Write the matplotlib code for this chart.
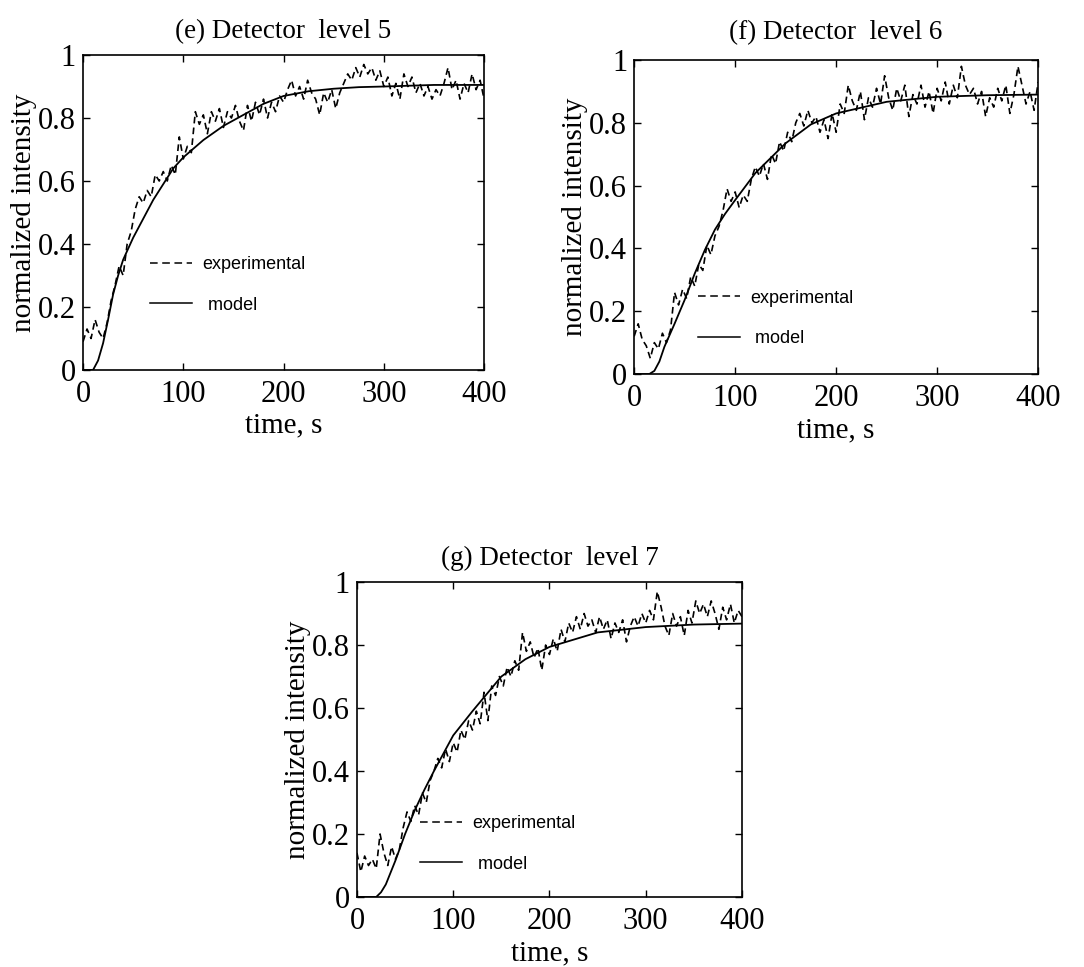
import matplotlib
matplotlib.use("Agg")
import matplotlib.pyplot as plt
from matplotlib.lines import Line2D

# experimental curves, sampled every 4 s
exp_t = list(range(0, 404, 4))

exp_e = [0.09, 0.13, 0.10, 0.16, 0.12, 0.10, 0.15, 0.22, 0.27, 0.33,
         0.30, 0.40, 0.44, 0.51, 0.55, 0.53, 0.57, 0.55, 0.62, 0.60,
         0.63, 0.60, 0.65, 0.62, 0.74, 0.67, 0.71, 0.69, 0.82, 0.78,
         0.81, 0.75, 0.82, 0.79, 0.83, 0.77, 0.82, 0.80, 0.84, 0.79,
         0.76, 0.84, 0.79, 0.85, 0.81, 0.86, 0.80, 0.85, 0.82, 0.87,
         0.85, 0.89, 0.92, 0.87, 0.90, 0.86, 0.92, 0.88, 0.86, 0.81,
         0.88, 0.85, 0.89, 0.83, 0.88, 0.91, 0.94, 0.92, 0.96, 0.93,
         0.97, 0.94, 0.96, 0.92, 0.95, 0.90, 0.93, 0.87, 0.91, 0.86,
         0.94, 0.90, 0.93, 0.88, 0.91, 0.87, 0.90, 0.86, 0.89, 0.87,
         0.91, 0.96, 0.89, 0.92, 0.86, 0.91, 0.88, 0.94, 0.89, 0.92,
         0.86]

exp_f = [0.12, 0.16, 0.11, 0.09, 0.05, 0.10, 0.08, 0.13, 0.10, 0.14,
         0.26, 0.22, 0.27, 0.24, 0.31, 0.28, 0.35, 0.33, 0.41, 0.38,
         0.44, 0.47, 0.52, 0.59, 0.55, 0.58, 0.53, 0.57, 0.55, 0.62,
         0.66, 0.63, 0.67, 0.62, 0.70, 0.67, 0.74, 0.71, 0.77, 0.74,
         0.80, 0.83, 0.79, 0.84, 0.80, 0.82, 0.77, 0.81, 0.75, 0.83,
         0.77, 0.86, 0.83, 0.92, 0.87, 0.84, 0.90, 0.81, 0.88, 0.85,
         0.91, 0.86, 0.95, 0.88, 0.84, 0.91, 0.87, 0.92, 0.82, 0.89,
         0.86, 0.92, 0.85, 0.90, 0.83, 0.91, 0.87, 0.93, 0.86, 0.92,
         0.88, 0.98, 0.92, 0.89, 0.91, 0.86, 0.90, 0.82, 0.88, 0.85,
         0.91, 0.87, 0.92, 0.83, 0.89, 0.98, 0.92, 0.86, 0.90, 0.84,
         0.93]

exp_g = [0.14, 0.08, 0.13, 0.10, 0.12, 0.09, 0.20, 0.14, 0.10, 0.16,
         0.12, 0.15, 0.22, 0.27, 0.24, 0.29, 0.26, 0.33, 0.30, 0.37,
         0.40, 0.44, 0.41, 0.47, 0.43, 0.49, 0.46, 0.53, 0.50, 0.56,
         0.53, 0.59, 0.55, 0.65, 0.56, 0.67, 0.64, 0.70, 0.67, 0.73,
         0.70, 0.75, 0.72, 0.84, 0.78, 0.81, 0.76, 0.79, 0.72, 0.80,
         0.77, 0.82, 0.78, 0.85, 0.81, 0.87, 0.84, 0.89, 0.85, 0.90,
         0.86, 0.88, 0.84, 0.89, 0.85, 0.88, 0.82, 0.87, 0.84, 0.88,
         0.81, 0.86, 0.89, 0.86, 0.90, 0.87, 0.91, 0.88, 0.97, 0.92,
         0.86, 0.83, 0.90, 0.86, 0.89, 0.83, 0.91, 0.87, 0.94, 0.90,
         0.93, 0.89, 0.94, 0.90, 0.85, 0.92, 0.88, 0.93, 0.87, 0.91,
         0.89]

# model curves
mod_t_e = [0, 10, 15, 20, 25, 30, 35, 40, 50, 60, 70, 80, 90, 100, 120,
           140, 160, 180, 200, 225, 250, 275, 300, 350, 400]
mod_e = [0, 0, 0.03, 0.085, 0.16, 0.24, 0.30, 0.35, 0.42, 0.48, 0.54,
         0.59, 0.64, 0.675, 0.73, 0.775, 0.81, 0.845, 0.87, 0.885, 0.893,
         0.898, 0.90, 0.905, 0.905]

mod_t_f = [0, 15, 20, 25, 30, 40, 50, 60, 70, 80, 90, 100, 120, 150, 175,
           200, 250, 300, 350, 400]
mod_f = [0, 0, 0.01, 0.04, 0.087, 0.16, 0.236, 0.32, 0.395, 0.46, 0.51,
         0.554, 0.64, 0.735, 0.795, 0.83, 0.867, 0.883, 0.888, 0.89]

mod_t_g = [0, 20, 25, 30, 40, 50, 60, 70, 80, 100, 120, 150, 175, 200,
           250, 300, 350, 400]
mod_g = [0, 0, 0.015, 0.04, 0.116, 0.20, 0.275, 0.34, 0.40, 0.513, 0.59,
         0.70, 0.755, 0.794, 0.84, 0.857, 0.865, 0.868]

titles = ["(e) Detector  level 5", "(f) Detector  level 6", "(g) Detector  level 7"]
xticks = [0, 100, 200, 300, 400]
yticks = [0, 0.2, 0.4, 0.6, 0.8, 1]
yticklabels = ["0", "0.2", "0.4", "0.6", "0.8", "1"]

serif = "Liberation Serif"
sans = "Liberation Sans"

fig = plt.figure(figsize=(10.84, 9.67), dpi=100)
boxes = [[0.0766, 0.6174, 0.370, 0.3257],
         [0.585, 0.6132, 0.3727, 0.3247],
         [0.3293, 0.0724, 0.3552, 0.3257]]
panels = [(exp_e, mod_t_e, mod_e), (exp_f, mod_t_f, mod_f), (exp_g, mod_t_g, mod_g)]
leg_pos = [(0.127, 0.413), (0.118, 0.32), (0.122, 0.311)]
title_pad = [12, 15, 12]

for i in range(3):
    ax = fig.add_axes(boxes[i])
    ey, mt, my = panels[i]
    ax.plot(exp_t, ey, color="black", lw=1.2, linestyle=(0, (4, 2.5)))
    ax.plot(mt, my, color="black", lw=1.3)
    ax.set_xlim(0, 400)
    ax.set_ylim(0, 1)
    ax.set_xticks(xticks)
    ax.set_xticklabels([str(v) for v in xticks], fontfamily=serif, fontsize=22)
    ax.set_yticks(yticks)
    ax.set_yticklabels(yticklabels, fontfamily=serif, fontsize=22)
    ax.tick_params(direction="in", top=True, right=True, length=5, width=1)
    ax.tick_params(axis="x", pad=7)
    ax.tick_params(axis="y", pad=5)
    for s in ax.spines.values():
        s.set_linewidth(1.2)
    ax.set_title(titles[i], fontfamily=serif, fontsize=19.5, pad=title_pad[i])
    ax.set_ylabel("normalized intensity", fontfamily=serif, fontsize=21, labelpad=1)
    ax.set_xlabel("time, s", fontfamily=serif, fontsize=21, labelpad=3)
    handles = [Line2D([], [], color="black", lw=1.1, linestyle=(0, (5, 3))),
               Line2D([], [], color="black", lw=1.1)]
    ax.legend(handles, ["experimental", " model"], loc="upper left",
              bbox_to_anchor=leg_pos[i], frameon=False, handlelength=2.3,
              handletextpad=0.6, labelspacing=1.3,
              prop={"family": sans, "size": 13})

fig.savefig("out.png", dpi=100)
